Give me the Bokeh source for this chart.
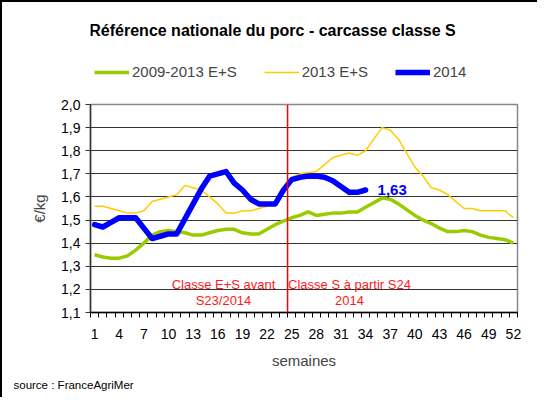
from bokeh.plotting import figure
from bokeh.layouts import column
from bokeh.models import (FixedTicker, CustomJSTickFormatter, Span, Label,
                          Legend, LegendItem, ColumnDataSource, Range1d, Title)
from bokeh.embed import file_html
from bokeh.resources import INLINE

# ---------------- data ----------------
weeks = list(range(1, 53))
avg_2009_2013 = [1.35, 1.34, 1.335, 1.335, 1.345, 1.37, 1.40, 1.435, 1.45, 1.455,
                 1.45, 1.445, 1.435, 1.435, 1.445, 1.455, 1.46, 1.46, 1.445, 1.44,
                 1.44, 1.46, 1.48, 1.495, 1.51, 1.52, 1.535, 1.52, 1.525, 1.53,
                 1.53, 1.535, 1.535, 1.555, 1.575, 1.595, 1.59, 1.57, 1.545, 1.52,
                 1.50, 1.485, 1.465, 1.45, 1.45, 1.455, 1.45, 1.435, 1.425, 1.42,
                 1.415, 1.40]
year_2013 = [1.56, 1.56, 1.55, 1.54, 1.53, 1.53, 1.54, 1.58, 1.59, 1.60,
             1.61, 1.65, 1.64, 1.63, 1.60, 1.57, 1.53, 1.53, 1.54, 1.54,
             1.55, 1.56, 1.58, 1.64, 1.685, 1.70, 1.705, 1.71, 1.74, 1.77,
             1.78, 1.79, 1.78, 1.80, 1.85, 1.90, 1.89, 1.85, 1.79, 1.73,
             1.69, 1.64, 1.63, 1.61, 1.58, 1.55, 1.55, 1.54, 1.54, 1.54,
             1.54, 1.51]
year_2014 = [1.48, 1.47, 1.49, 1.51, 1.51, 1.51, 1.465, 1.42, 1.43, 1.44,
             1.44, 1.505, 1.57, 1.635, 1.69, 1.70, 1.71, 1.66, 1.63, 1.59,
             1.57, 1.57, 1.57, 1.63, 1.675, 1.685, 1.69, 1.69, 1.685, 1.67,
             1.645, 1.62, 1.62, 1.63]
weeks_2014 = weeks[:len(year_2014)]
series_names = ["2009-2013 E+S", "2013 E+S", "2014"]
x_tick_values = list(range(1, 53, 3))
y_tick_values = [1.1, 1.2, 1.3, 1.4, 1.5, 1.6, 1.7, 1.8, 1.9, 2.0]
class_change_week = 24.5
title_text = "Référence nationale du porc - carcasse classe S"
source_text = "source : FranceAgriMer"

FONT = "Liberation Sans"
COLORS = ["#99CC00", "#FFCC00", "#0000FF"]
WIDTHS = [3.5, 1.5, 5.5]

# ---------------- geometry (page pixels) ----------------
W = 535
TOP_H, MAIN_H = 96, 299
PAGE_X0, PAGE_Y0 = 10, 10               # 8px margin + 2px border
MAIN_Y0 = PAGE_Y0 + TOP_H
FR_L, FR_R, FR_T, FR_B = 98, 525, 112, 320   # frame edges on the page
X0, X1, Y0, Y1 = 0.5, 52.5, 1.1, 2.0

# ---------------- header: title + legend ----------------
# its frame is aligned with the chart frame, so page x maps 1:1 onto data x
top = figure(width=W, height=TOP_H, output_backend="svg", toolbar_location=None,
             x_axis_type=None, y_axis_type=None,
             x_range=Range1d(FR_L, FR_R), y_range=Range1d(PAGE_Y0 + TOP_H, PAGE_Y0),
             min_border_left=FR_L - PAGE_X0, min_border_right=W - (FR_R - PAGE_X0),
             min_border_top=0, min_border_bottom=0)
top.outline_line_color = None
top.grid.visible = False
top.background_fill_color = "white"
top.border_fill_color = "white"
top.add_layout(Label(x=280, y=38, text=title_text,
                     text_align="center", text_baseline="middle", text_font=FONT,
                     text_font_size="16px", text_font_style="bold", text_color="black"))
# legend swatch renderers (their data lies outside this header's range)
swatches = [top.line(weeks, vals, line_color=c, line_width=w)
            for vals, c, w in zip([avg_2009_2013, year_2013, year_2014 + [year_2014[-1]] * 18],
                                  COLORS, WIDTHS)]
legend = Legend(items=[LegendItem(label=n, renderers=[r])
                       for n, r in zip(series_names, swatches)],
                orientation="horizontal",
                location=(102 - FR_L, (PAGE_Y0 + TOP_H) - 88),
                padding=0, margin=0, spacing=27, glyph_width=35, glyph_height=16,
                label_height=16, label_standoff=3, label_text_font=FONT,
                label_text_font_size="15px", border_line_color=None,
                background_fill_alpha=0)
top.add_layout(legend)

# ---------------- main chart ----------------
p = figure(width=W, height=MAIN_H, output_backend="svg", toolbar_location=None,
           x_range=(X0, X1), y_range=(Y0, Y1),
           min_border_left=FR_L - PAGE_X0, min_border_right=W - (FR_R - PAGE_X0),
           min_border_top=FR_T - MAIN_Y0, min_border_bottom=MAIN_Y0 + MAIN_H - FR_B)
p.background_fill_color = "white"
p.border_fill_color = "white"
p.outline_line_color = "#888888"
p.outline_line_width = 1.5

p.xgrid.visible = False
p.ygrid.ticker = FixedTicker(ticks=y_tick_values[1:-1])
p.ygrid.grid_line_color = "#333333"
p.ygrid.grid_line_width = 1

p.yaxis.ticker = FixedTicker(ticks=y_tick_values)
p.yaxis.formatter = CustomJSTickFormatter(code="return tick.toFixed(1).replace('.', ',');")
p.yaxis.major_tick_out = 5
p.yaxis.major_tick_in = 0
p.yaxis.minor_tick_line_color = None
p.yaxis.axis_line_color = "#333333"
p.yaxis.axis_line_width = 1.5
p.yaxis.major_tick_line_color = "#333333"
p.yaxis.major_label_text_font = FONT
p.yaxis.major_label_text_font_size = "14px"
p.yaxis.major_label_text_color = "black"
p.yaxis.major_label_standoff = 5
p.yaxis.axis_label = "€/kg"
p.yaxis.axis_label_text_font = FONT
p.yaxis.axis_label_text_font_size = "15px"
p.yaxis.axis_label_text_font_style = "normal"
p.yaxis.axis_label_standoff = 10

p.xaxis.ticker = FixedTicker(ticks=x_tick_values,
                             minor_ticks=[X0 + i for i in range(53)])
p.xaxis.major_tick_out = 5
p.xaxis.major_tick_in = 0
p.xaxis.major_tick_line_color = None
p.xaxis.minor_tick_out = 5
p.xaxis.minor_tick_in = 0
p.xaxis.minor_tick_line_color = "black"
p.xaxis.axis_line_color = "black"
p.xaxis.axis_line_width = 1.5
p.xaxis.major_label_text_font = FONT
p.xaxis.major_label_text_font_size = "14px"
p.xaxis.major_label_text_color = "black"
p.xaxis.major_label_standoff = 11
p.xaxis.axis_label = "semaines"
p.xaxis.axis_label_text_font = FONT
p.xaxis.axis_label_text_font_size = "15px"
p.xaxis.axis_label_text_font_style = "normal"
p.xaxis.axis_label_standoff = 10

# source note under the axis
p.add_layout(Title(text=source_text, align="left", offset=21 - FR_L, standoff=10,
                   text_font=FONT, text_font_size="11.5px", text_font_style="normal",
                   text_color="black"), "below")

p.add_layout(Span(location=class_change_week, dimension="height",
                  line_color="#FF0000", line_width=1.5))

src_avg = ColumnDataSource(dict(x=weeks, y=avg_2009_2013))
src_13 = ColumnDataSource(dict(x=weeks, y=year_2013))
src_14 = ColumnDataSource(dict(x=weeks_2014, y=year_2014))
p.line("x", "y", source=src_avg, line_color=COLORS[0], line_width=WIDTHS[0],
       line_join="round")
p.line("x", "y", source=src_13, line_color=COLORS[1], line_width=WIDTHS[1],
       line_join="round")
p.line("x", "y", source=src_14, line_color=COLORS[2], line_width=WIDTHS[2],
       line_join="round", line_cap="round")


def xd(px):
    return X0 + (px - FR_L) * (X1 - X0) / (FR_R - FR_L)


def yd(py):
    return Y0 + (FR_B - py) * (Y1 - Y0) / (FR_B - FR_T)


for txt, cx, cy in [("Classe E+S avant", 231, 292), ("S23/2014", 231, 308),
                    ("Classe S à partir S24", 357, 292), ("2014", 357, 308)]:
    p.add_layout(Label(x=xd(cx), y=yd(cy), text=txt, text_align="center",
                       text_baseline="middle", text_font=FONT, text_font_size="13px",
                       text_color="#FF1A1A"))

last_val = year_2014[-1]
p.add_layout(Label(x=weeks_2014[-1], y=last_val, x_offset=12,
                   text=f"{last_val:.2f}".replace(".", ","), text_align="left",
                   text_baseline="middle", text_font=FONT, text_font_size="15px",
                   text_font_style="bold", text_color="#0000FF"))

layout = column(top, p, spacing=0)
layout.styles = {"border-left": "2px solid black", "border-top": "2px solid black"}

open("out.html", "w").write(file_html(layout, INLINE))
